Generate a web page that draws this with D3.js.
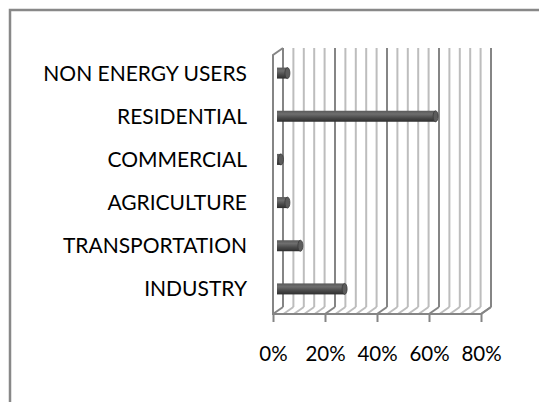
<!DOCTYPE html>
<html>
  <head>
    <meta charset="utf-8">
    <title>Energy users</title>
    <style>
    body { margin: 0; background: #fff; }
    text { font-family: Lato, "Open Sans", sans-serif; fill: #000; }
    </style>
  </head>
  <body>
    <div id="chart"></div>
    <script src="https://cdn.jsdelivr.net/npm/d3@7"></script>
    <script>

    // data, top row first
    var categories = ['NON ENERGY USERS', 'RESIDENTIAL', 'COMMERCIAL', 'AGRICULTURE', 'TRANSPORTATION', 'INDUSTRY'];
    var shares = [0.04, 0.61, 0.015, 0.04, 0.09, 0.26];
    var ticks = [0, 0.2, 0.4, 0.6, 0.8];
    var minorTicks = d3.range(0, 0.8001, 0.04);

    var width = 539,
        height = 402,
        dx = 10, dy = -7   // depth of the 3d box

    var svg = d3.select('#chart').append('svg')
      .attr('width', width)
      .attr('height', height)

    // outer frame (only top + left visible)
    svg.append('path')
      .attr('d', 'M10,402V10H539')
      .attr('fill', 'none')
      .attr('stroke', '#888')
      .attr('stroke-width', 2.5)

    var x = d3.scaleLinear().domain([0, 0.8]).range([273, 481])
    var y = d3.scaleBand().domain(categories).range([55, 314])

    var grid = svg.append('g')

    // back wall gridlines
    grid.selectAll('.minor').data(minorTicks).enter()
      .append('line')
      .attr('x1', d => x(d) + dx).attr('x2', d => x(d) + dx)
      .attr('y1', y.range()[0] + dy).attr('y2', y.range()[1] + dy)
      .attr('stroke', (d, i) => i % 5 == 0 ? '#858585' : '#bdbdbd')
      .attr('stroke-width', 2)

    // floor diagonals
    grid.selectAll('.floor').data(minorTicks).enter()
      .append('line')
      .attr('x1', d => x(d)).attr('y1', y.range()[1])
      .attr('x2', d => x(d) + dx).attr('y2', y.range()[1] + dy)
      .attr('stroke', (d, i) => i % 5 == 0 ? '#858585' : '#bdbdbd')
      .attr('stroke-width', 2)

    // left wall + front floor edge
    grid.append('path')
      .attr('d', 'M' + (x(0) + dx) + ',' + (y.range()[0] + dy) +
                 'L' + x(0) + ',' + y.range()[0] +
                 'V' + y.range()[1] + 'H' + x(0.8) +
                 'L' + (x(0.8) + dx) + ',' + (y.range()[1] + dy))
      .attr('fill', 'none')
      .attr('stroke', '#858585')
      .attr('stroke-width', 2)

    // axis with ticks below
    var axis = d3.axisBottom(x).tickValues(ticks).tickSize(8).tickFormat(d3.format('.0%'))
    var ax = svg.append('g')
      .attr('transform', 'translate(0,' + y.range()[1] + ')')
      .call(axis)
    ax.select('.domain').remove()
    ax.selectAll('.tick line').attr('stroke', '#858585').attr('stroke-width', 2)
    ax.selectAll('.tick text')
      .attr('y', 47)
      .attr('dy', 0)
      .style('font-size', '20.5px')

    // cylinder gradient
    var defs = svg.append('defs')
    var grad = defs.append('linearGradient').attr('id', 'cyl')
      .attr('x1', 0).attr('x2', 0).attr('y1', 0).attr('y2', 1)
    grad.append('stop').attr('offset', '0%').attr('stop-color', '#5a5a5a')
    grad.append('stop').attr('offset', '30%').attr('stop-color', '#6e6e6e')
    grad.append('stop').attr('offset', '65%').attr('stop-color', '#4a4a4a')
    grad.append('stop').attr('offset', '100%').attr('stop-color', '#2e2e2e')

    var barH = 11,
        off = 4

    var bars = svg.append('g').selectAll('g').data(categories).enter().append('g')

    bars.append('rect')
      .attr('x', x(0) + off)
      .attr('y', d => y(d) + y.bandwidth() / 2 + dy / 2 - barH / 2)
      .attr('width', (d, i) => x(shares[i]) - x(0))
      .attr('height', barH)
      .attr('fill', 'url(#cyl)')

    bars.append('ellipse')
      .attr('cx', (d, i) => x(shares[i]) + off)
      .attr('cy', d => y(d) + y.bandwidth() / 2 + dy / 2)
      .attr('rx', 2.5)
      .attr('ry', barH / 2)
      .attr('fill', '#5c5c5c')
      .attr('stroke', '#3a3a3a')
      .attr('stroke-width', 0.8)

    // category labels
    svg.append('g').selectAll('text').data(categories).enter()
      .append('text')
      .attr('x', 247)
      .attr('y', d => y(d) + y.bandwidth() / 2 + dy / 2)
      .attr('dy', '0.36em')
      .attr('text-anchor', 'end')
      .style('font-size', '21px')
      .text(d => d)

    </script>
  </body>
</html>
